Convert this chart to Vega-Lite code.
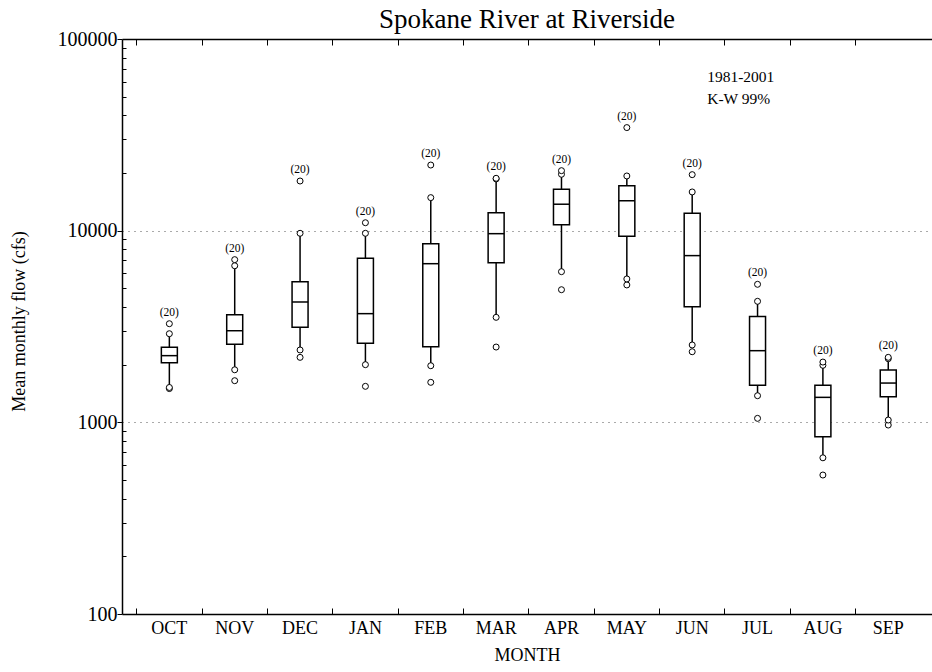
{
  "$schema": "https://vega.github.io/schema/vega-lite/v6.json",
  "width": 810,
  "height": 575,
  "autosize": {"type": "none"},
  "padding": {"left": 122, "top": 39, "right": 0, "bottom": 58},
  "background": "white",
  "config": {
    "font": "Liberation Serif",
    "view": {"stroke": null},
    "axis": {"domainColor": "black", "tickColor": "black", "labelColor": "black", "titleColor": "black", "titleFontWeight": "normal", "labelFont": "Liberation Serif", "titleFont": "Liberation Serif"}
  },
  "title": {"text": "Spokane River at Riverside", "fontSize": 27, "fontWeight": "normal", "font": "Liberation Serif", "color": "black", "anchor": "middle", "offset": -5},
  "datasets": {
    "stats": [
      {"month": "OCT", "lo": 1520, "q1": 2047, "med": 2228, "q3": 2462, "hi": 2900, "top": 3270, "label": "(20)"},
      {"month": "NOV", "lo": 1880, "q1": 2553, "med": 3006, "q3": 3645, "hi": 6560, "top": 7060, "label": "(20)"},
      {"month": "DEC", "lo": 2385, "q1": 3130, "med": 4245, "q3": 5420, "hi": 9690, "top": 18160, "label": "(20)"},
      {"month": "JAN", "lo": 1999, "q1": 2585, "med": 3690, "q3": 7175, "hi": 9690, "top": 11000, "label": "(20)"},
      {"month": "FEB", "lo": 1974, "q1": 2482, "med": 6725, "q3": 8550, "hi": 14870, "top": 22000, "label": "(20)"},
      {"month": "MAR", "lo": 3530, "q1": 6810, "med": 9645, "q3": 12420, "hi": 18620, "top": 18760, "label": "(20)"},
      {"month": "APR", "lo": 6110, "q1": 10750, "med": 13740, "q3": 16440, "hi": 19690, "top": 20560, "label": "(20)"},
      {"month": "MAY", "lo": 5600, "q1": 9350, "med": 14340, "q3": 17170, "hi": 19290, "top": 34500, "label": "(20)"},
      {"month": "JUN", "lo": 2533, "q1": 4012, "med": 7410, "q3": 12330, "hi": 15920, "top": 19600, "label": "(20)"},
      {"month": "JUL", "lo": 1377, "q1": 1560, "med": 2365, "q3": 3570, "hi": 4280, "top": 5250, "label": "(20)"},
      {"month": "AUG", "lo": 653, "q1": 841, "med": 1350, "q3": 1560, "hi": 1984, "top": 2063, "label": "(20)"},
      {"month": "SEP", "lo": 1028, "q1": 1360, "med": 1603, "q3": 1875, "hi": 2148, "top": 2183, "label": "(20)"}
    ],
    "outliers": [
      {"month": "OCT", "v": 1500}, {"month": "OCT", "v": 1520}, {"month": "OCT", "v": 2900}, {"month": "OCT", "v": 3270},
      {"month": "NOV", "v": 1649}, {"month": "NOV", "v": 1880}, {"month": "NOV", "v": 6560}, {"month": "NOV", "v": 7060},
      {"month": "DEC", "v": 2183}, {"month": "DEC", "v": 2385}, {"month": "DEC", "v": 9690}, {"month": "DEC", "v": 18160},
      {"month": "JAN", "v": 1541}, {"month": "JAN", "v": 1999}, {"month": "JAN", "v": 9690}, {"month": "JAN", "v": 11000},
      {"month": "FEB", "v": 1617}, {"month": "FEB", "v": 1974}, {"month": "FEB", "v": 14870}, {"month": "FEB", "v": 22000},
      {"month": "MAR", "v": 2471}, {"month": "MAR", "v": 3530}, {"month": "MAR", "v": 18620}, {"month": "MAR", "v": 18760},
      {"month": "APR", "v": 4920}, {"month": "APR", "v": 6110}, {"month": "APR", "v": 19690}, {"month": "APR", "v": 20560},
      {"month": "MAY", "v": 5210}, {"month": "MAY", "v": 5600}, {"month": "MAY", "v": 19290}, {"month": "MAY", "v": 34500},
      {"month": "JUN", "v": 2335}, {"month": "JUN", "v": 2533}, {"month": "JUN", "v": 15920}, {"month": "JUN", "v": 19600},
      {"month": "JUL", "v": 1049}, {"month": "JUL", "v": 1377}, {"month": "JUL", "v": 4280}, {"month": "JUL", "v": 5250},
      {"month": "AUG", "v": 531}, {"month": "AUG", "v": 653}, {"month": "AUG", "v": 1984}, {"month": "AUG", "v": 2063},
      {"month": "SEP", "v": 968}, {"month": "SEP", "v": 1028}, {"month": "SEP", "v": 2148}, {"month": "SEP", "v": 2183}
    ],
    "notes": [
      {"month": "JUN", "v": 63400, "text": "1981-2001"},
      {"month": "JUN", "v": 48600, "text": "K-W 99%"}
    ]
  },
  "resolve": {"axis": {"x": "independent"}},
  "layer": [
    {
      "data": {"name": "stats"},
      "mark": {"type": "rule", "stroke": "black", "strokeWidth": 1.5},
      "encoding": {
        "x": {
          "field": "month", "type": "nominal",
          "sort": ["OCT", "NOV", "DEC", "JAN", "FEB", "MAR", "APR", "MAY", "JUN", "JUL", "AUG", "SEP"],
          "scale": {"type": "band", "domain": ["OCT", "NOV", "DEC", "JAN", "FEB", "MAR", "APR", "MAY", "JUN", "JUL", "AUG", "SEP"], "paddingInner": 0, "paddingOuter": 0.197, "align": 0.57},
          "axis": {"orient": "bottom", "bandPosition": 0, "tickSize": -6, "tickWidth": 1, "domainWidth": 1.5, "labelAngle": 0, "labelFontSize": 18, "labelPadding": 11, "labelAlign": "center", "labelBaseline": "top", "title": "MONTH", "titleFontSize": 18, "titlePadding": 9, "grid": false}
        },
        "y": {
          "field": "lo", "type": "quantitative",
          "scale": {"type": "log", "domain": [100, 100000], "nice": false, "zero": false},
          "title": "Mean monthly flow (cfs)",
          "axis": {
            "values": [100, 200, 300, 400, 500, 600, 700, 800, 900, 1000, 2000, 3000, 4000, 5000, 6000, 7000, 8000, 9000, 10000, 20000, 30000, 40000, 50000, 60000, 70000, 80000, 90000, 100000],
            "format": "d",
            "labelExpr": "(datum.value == 100 || datum.value == 1000 || datum.value == 10000 || datum.value == 100000) ? datum.label : ''",
            "grid": true,
            "gridColor": "#555",
            "gridDash": [1, 5],
            "gridWidth": 1,
            "gridOpacity": {"condition": {"test": "datum.value == 1000 || datum.value == 10000", "value": 1}, "value": 0},
            "tickSize": {"condition": {"test": "datum.value == 100 || datum.value == 1000 || datum.value == 10000 || datum.value == 100000", "value": 5}, "value": -4},
            "tickWidth": 1,
            "domainWidth": 1.5,
            "labelFontSize": 20,
            "labelPadding": 0,
            "labelBaseline": "middle",
            "titleFontSize": 18,
            "titleAngle": -90,
            "titleX": -103,
            "titleY": 282,
            "titleAlign": "center",
            "titleBaseline": "middle"
          }
        },
        "y2": {"field": "hi"}
      }
    },
    {
      "data": {"name": "stats"},
      "mark": {"type": "bar", "size": 16, "fill": "white", "stroke": "black", "strokeWidth": 1.5},
      "encoding": {
        "x": {"field": "month", "type": "nominal", "sort": ["OCT", "NOV", "DEC", "JAN", "FEB", "MAR", "APR", "MAY", "JUN", "JUL", "AUG", "SEP"], "axis": null},
        "y": {"field": "q1", "type": "quantitative", "title": "Mean monthly flow (cfs)"},
        "y2": {"field": "q3"}
      }
    },
    {
      "data": {"name": "stats"},
      "mark": {"type": "tick", "size": 16, "thickness": 1.5, "color": "black", "opacity": 1},
      "encoding": {
        "x": {"field": "month", "type": "nominal", "sort": ["OCT", "NOV", "DEC", "JAN", "FEB", "MAR", "APR", "MAY", "JUN", "JUL", "AUG", "SEP"], "axis": null},
        "y": {"field": "med", "type": "quantitative", "title": "Mean monthly flow (cfs)"}
      }
    },
    {
      "data": {"name": "outliers"},
      "mark": {"type": "point", "shape": "circle", "filled": false, "stroke": "black", "fill": "white", "fillOpacity": 1, "size": 36, "strokeWidth": 1, "opacity": 1},
      "encoding": {
        "x": {"field": "month", "type": "nominal", "sort": ["OCT", "NOV", "DEC", "JAN", "FEB", "MAR", "APR", "MAY", "JUN", "JUL", "AUG", "SEP"], "axis": null},
        "y": {"field": "v", "type": "quantitative", "title": "Mean monthly flow (cfs)"}
      }
    },
    {
      "data": {"name": "stats"},
      "mark": {"type": "text", "baseline": "bottom", "dy": -6, "fontSize": 11.5, "color": "black"},
      "encoding": {
        "x": {"field": "month", "type": "nominal", "sort": ["OCT", "NOV", "DEC", "JAN", "FEB", "MAR", "APR", "MAY", "JUN", "JUL", "AUG", "SEP"],
          "axis": {"orient": "top", "labels": false, "title": null, "bandPosition": 0, "tickSize": -6, "tickWidth": 1, "domainWidth": 1.5, "domainColor": "black", "tickColor": "black", "grid": false}},
        "y": {"field": "top", "type": "quantitative", "title": "Mean monthly flow (cfs)"},
        "text": {"field": "label"}
      }
    },
    {
      "data": {"name": "notes"},
      "mark": {"type": "text", "align": "left", "baseline": "middle", "dx": 15, "fontSize": 15.5, "color": "black"},
      "encoding": {
        "x": {"field": "month", "type": "nominal", "sort": ["OCT", "NOV", "DEC", "JAN", "FEB", "MAR", "APR", "MAY", "JUN", "JUL", "AUG", "SEP"], "axis": null},
        "y": {"field": "v", "type": "quantitative", "title": "Mean monthly flow (cfs)"},
        "text": {"field": "text"}
      }
    }
  ]
}
